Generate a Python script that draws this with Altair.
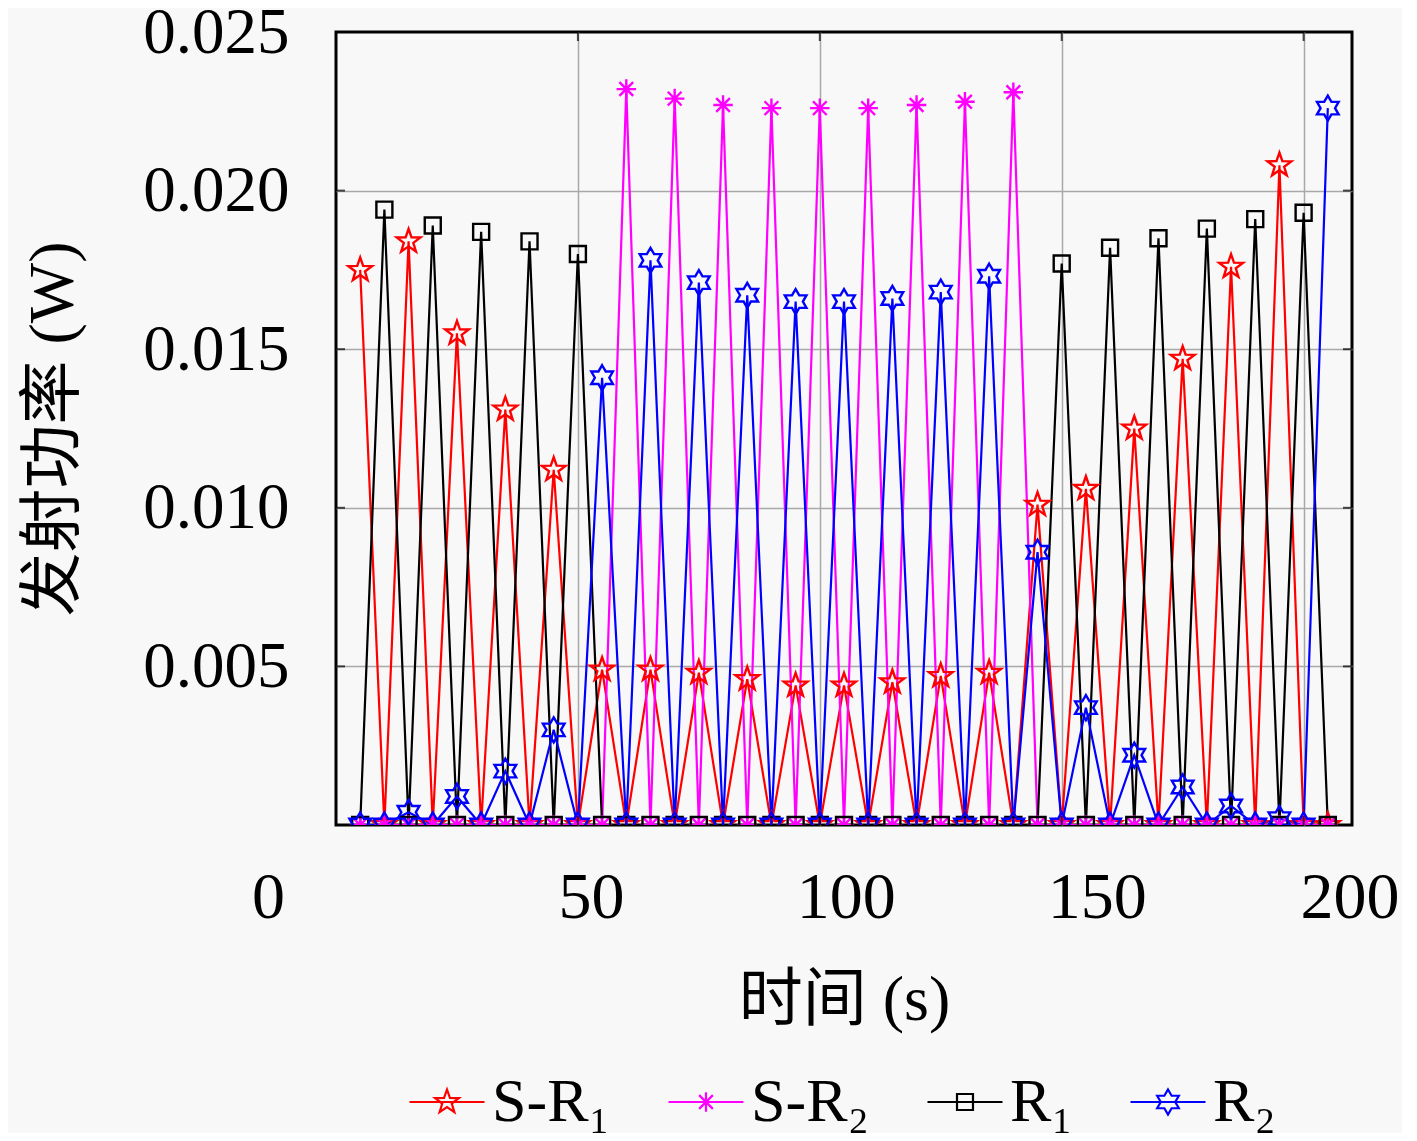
import math
import altair as alt
import pandas as pd

# ---------------- data ----------------
time_s = [5, 10, 15, 20, 25, 30, 35, 40, 45, 50,
          55, 60, 65, 70, 75, 80, 85, 90, 95, 100,
          105, 110, 115, 120, 125, 130, 135, 140, 145, 150,
          155, 160, 165, 170, 175, 180, 185, 190, 195, 200,
          205]

p_s_r1 = [0.0175, 0, 0.0184, 0, 0.0155, 0, 0.0131, 0, 0.0112, 0,
          0.0049, 0, 0.0049, 0, 0.0048, 0, 0.0046, 0, 0.0044, 0,
          0.0044, 0, 0.0045, 0, 0.0047, 0, 0.0048, 0, 0.0101, 0,
          0.0106, 0, 0.0125, 0, 0.0147, 0, 0.0176, 0, 0.0208, 0,
          0]

p_s_r2 = [0, 0, 0, 0, 0, 0, 0, 0, 0, 0,
          0, 0.0232, 0, 0.0229, 0, 0.0227, 0, 0.0226, 0, 0.0226,
          0, 0.0226, 0, 0.0227, 0, 0.0228, 0, 0.0231, 0, 0,
          0, 0, 0, 0, 0, 0, 0, 0, 0, 0,
          0]

p_r1 = [0, 0.0194, 0, 0.0189, 0, 0.0187, 0, 0.0184, 0, 0.0180,
        0, 0, 0, 0, 0, 0, 0, 0, 0, 0,
        0, 0, 0, 0, 0, 0, 0, 0, 0, 0.0177,
        0, 0.0182, 0, 0.0185, 0, 0.0188, 0, 0.0191, 0, 0.0193,
        0]

p_r2 = [0, 0, 0.0004, 0, 0.0009, 0, 0.0017, 0, 0.0030, 0,
        0.0141, 0, 0.0178, 0, 0.0171, 0, 0.0167, 0, 0.0165, 0,
        0.0165, 0, 0.0166, 0, 0.0168, 0, 0.0173, 0, 0.0086, 0,
        0.0037, 0, 0.0022, 0, 0.0012, 0, 0.0006, 0, 0.0002, 0,
        0.0226]

series_names = ["S-R\u2081", "S-R\u2082", "R\u2081", "R\u2082"]
series_colors = ["#ff0000", "#ff00ff", "#000000", "#0000ff"]

x_ticks = [0, 50, 100, 150, 200]
y_ticks = [0.005, 0.010, 0.015, 0.020, 0.025]

x_title = "时间 (s)"
y_title = "发射功率 (W)"

# ---------------- build table ----------------
rows = []
for name, vals in zip(series_names, [p_s_r1, p_s_r2, p_r1, p_r2]):
    for t, v in zip(time_s, vals):
        rows.append({"time": t, "power": v, "series": name})
df = pd.DataFrame(rows)

# ---------------- marker shapes ----------------
def fmt(v):
    return f"{v:.3f}"

def star(n, r_out, r_in, k=1.0):
    pts = []
    for i in range(2 * n):
        r = r_out if i % 2 == 0 else r_in
        a = math.radians(-90 + i * 180.0 / n)
        pts.append((k * r * math.cos(a), k * r * math.sin(a)))
    return "M" + "L".join(f"{fmt(x)},{fmt(y)}" for x, y in pts) + "Z"

def asterisk(k=1.0):
    a = 0.78 * k
    d = 0.55 * k
    return (f"M{fmt(-a)},0L{fmt(a)},0M0,{fmt(-a)}L0,{fmt(a)}"
            f"M{fmt(-d)},{fmt(-d)}L{fmt(d)},{fmt(d)}M{fmt(-d)},{fmt(d)}L{fmt(d)},{fmt(-d)}")

def square(k=1.0):
    s = 0.64 * k
    return f"M{fmt(-s)},{fmt(-s)}L{fmt(s)},{fmt(-s)}L{fmt(s)},{fmt(s)}L{fmt(-s)},{fmt(s)}Z"

def marker_paths(k=1.0):
    return [star(5, 1.0 * k, 0.40 * k), asterisk(k), square(k),
            star(6, 1.0 * k, 0.58 * k)]

plot_paths = marker_paths(1.0)
legend_paths = ["M-1,0L1,0" + p for p in marker_paths(1.0 / 3.0)]

FONT = "Liberation Serif, Noto Sans CJK SC"

color_scale = alt.Scale(domain=series_names, range=series_colors)

x_axis = alt.Axis(
    values=x_ticks, title=x_title, format="d", grid=True,
    labelFontSize=66, labelPadding=40, titlePadding=38, labelFlush=False,
    labelOffset=alt.ExprRef(
        "datum.value == 0 ? -68 : datum.value == 50 ? 13 : "
        "datum.value == 100 ? 26 : datum.value == 150 ? 35 : 46"),
    gridOpacity={"condition": {"test": "datum.value == 0", "value": 0}, "value": 1},
)
y_axis = alt.Axis(
    values=y_ticks, title=y_title, format=".3f", grid=True,
    labelFontSize=65, labelPadding=47, titlePadding=57,
    gridOpacity={"condition": {"test": "datum.value >= 0.0249", "value": 0}, "value": 1},
)

x_scale = alt.Scale(domain=[0, 210], nice=False, zero=False)
y_scale = alt.Scale(domain=[0, 0.025], nice=False)

X = alt.X("time:Q", scale=x_scale, axis=x_axis)
Y = alt.Y("power:Q", scale=y_scale, axis=y_axis)

base = alt.Chart(df)

lines = base.mark_line(strokeWidth=2.2, clip=True).encode(
    x=X, y=Y,
    color=alt.Color("series:N", scale=color_scale, legend=None),
)

points = base.mark_point(filled=False, size=625, strokeWidth=2.4, opacity=1,
                         clip=True).encode(
    x=X, y=Y,
    color=alt.Color("series:N", scale=color_scale, legend=None),
    shape=alt.Shape("series:N",
                    scale=alt.Scale(domain=series_names, range=plot_paths),
                    legend=None),
)

leg = alt.Legend(orient="none", legendX=72, legendY=1031, direction="horizontal",
                 title=None, labelFont=FONT, labelFontSize=62, labelColor="black",
                 symbolSize=5625, symbolStrokeWidth=2.2, labelOffset=6,
                 columnPadding=53, symbolFillColor="transparent")

legend_layer = base.transform_filter("datum.time < 0").mark_point(
    filled=False, strokeWidth=2.2, opacity=1).encode(
    x=X, y=Y,
    color=alt.Color("series:N", scale=color_scale, legend=leg),
    shape=alt.Shape("series:N",
                    scale=alt.Scale(domain=series_names, range=legend_paths),
                    legend=leg),
)

# inward tick marks on the four sides of the box
xt = pd.DataFrame({"time": x_ticks})
yt = pd.DataFrame({"power": y_ticks})
tick_bottom = alt.Chart(xt).mark_tick(orient="vertical", size=18, thickness=2,
                                      color="black", clip=True).encode(
    x=X, y=alt.datum(0))
tick_top = alt.Chart(xt).mark_tick(orient="vertical", size=18, thickness=2,
                                   color="black", clip=True).encode(
    x=X, y=alt.datum(0.025))
tick_left = alt.Chart(yt).mark_tick(orient="horizontal", size=18, thickness=2,
                                    color="black", clip=True).encode(
    y=Y, x=alt.datum(0))
tick_right = alt.Chart(yt).mark_tick(orient="horizontal", size=18, thickness=2,
                                     color="black", clip=True).encode(
    y=Y, x=alt.datum(210))

chart = alt.layer(
    lines, points, legend_layer, tick_bottom, tick_top, tick_left, tick_right
).resolve_scale(
    color="independent", shape="independent"
).properties(
    width=1016, height=793,
    autosize=alt.AutoSizeParams(type="none"),
    padding={"left": 328, "top": 24, "right": 50, "bottom": 308},
    background="#f8f8f8",
).configure_view(
    stroke="black", strokeWidth=3, fill="#f8f8f8"
).configure_axis(
    domain=False, ticks=False, tickSize=0,
    gridColor="#a8a8a8", gridWidth=1.5,
    labelFont=FONT, labelColor="black",
    titleFont=FONT, titleFontSize=64, titleFontWeight="normal", titleColor="black",
)

chart.save("out.html", embed_options={"renderer": "svg", "actions": False})
